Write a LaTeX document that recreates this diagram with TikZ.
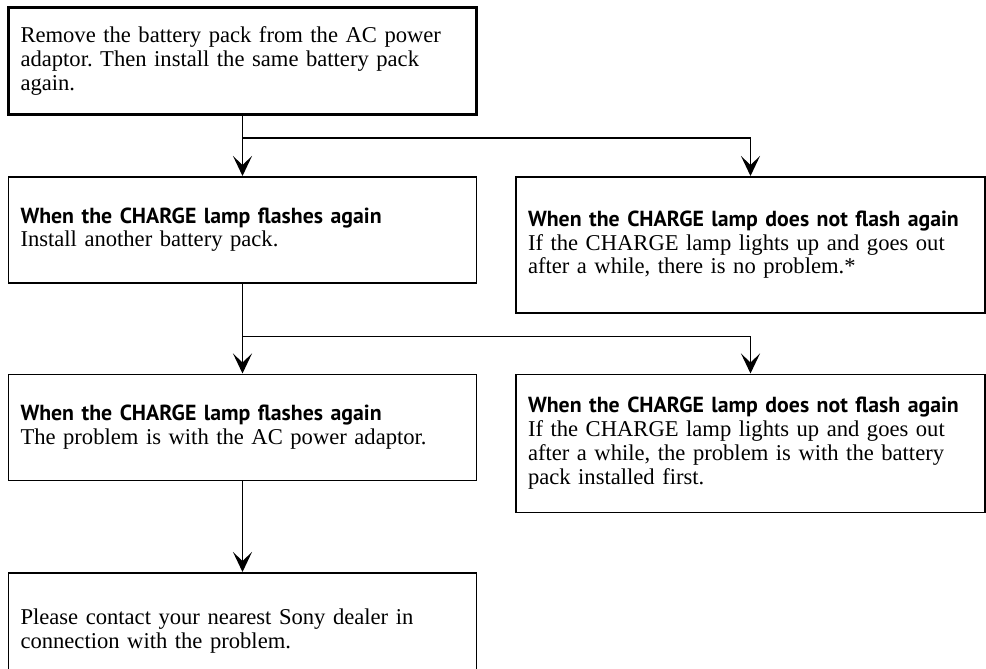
\documentclass[tikz,border=0pt]{standalone}
\usepackage{fontspec}
\setmainfont{Liberation Serif}
\newfontfamily\headfont{PT Sans}
\usepackage{tikz}
\usetikzlibrary{arrows.meta, positioning}
\frenchspacing

\newcommand{\casehead}[1]{{\headfont\bfseries\fontsize{10.9pt}{12pt}\selectfont #1}\\}

\begin{document}
\begin{tikzpicture}[
    node distance=30pt and 19pt,
    box/.style={draw, line width=0.75pt, align=left, text width=222pt, inner xsep=6pt,
        minimum height=53pt, font=\fontsize{11.3pt}{11.9pt}\selectfont},
    wide/.style={text width=222.5pt},
    arr/.style={-{Stealth[length=10pt, width=9.5pt, inset=4.5pt]}, line width=0.75pt}
]
\useasboundingbox (0,0) rectangle (493pt,-334.5pt);
\node[box, line width=1.5pt, minimum height=53.5pt, anchor=north west] (b1) at (3.5pt,-3pt)
    {Remove the battery pack from the AC power\\ adaptor. Then install the same battery pack\\ again.};
\node[box, below=of b1] (b2L)
    {\casehead{When the CHARGE lamp flashes again}Install another battery pack.};
\node[box, wide, minimum height=68pt, right=of b2L.north east, anchor=north west] (b2R)
    {\casehead{When the CHARGE lamp does not flash again}If the CHARGE lamp lights up and goes out\\ after a while, there is no problem.*};
\node[box, below=45pt of b2L] (b3L)
    {\casehead{When the CHARGE lamp flashes again}The problem is with the AC power adaptor.};
\node[box, wide, minimum height=69pt, right=of b3L.north east, anchor=north west] (b3R)
    {\casehead{When the CHARGE lamp does not flash again}If the CHARGE lamp lights up and goes out\\ after a while, the problem is with the battery\\ pack installed first.};
\node[box, minimum height=58pt, below=45.5pt of b3L] (b4)
    {Please contact your nearest Sony dealer in\\ connection with the problem.};

% branch points
\coordinate[below=11pt of b1.south] (j1);
\coordinate[below=11.5pt of b2R.south] (j2);

\draw[arr] (b1) -- (b2L);
\draw[arr] (j1) -| (b2R.north);
\draw[arr] (b2L) -- (b3L);
\draw[arr] (b2L.south |- j2) -| (b3R.north);
\draw[arr] (b3L) -- (b4);
\end{tikzpicture}
\end{document}
